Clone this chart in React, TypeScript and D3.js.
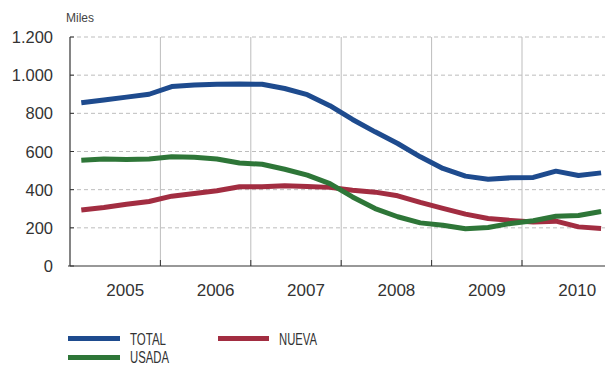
import * as React from 'react';
import * as d3 from 'd3';

// Quarterly data, 2005 Q1 .. 2010 Q4 (miles)
const years = ['2005', '2006', '2007', '2008', '2009', '2010'];
const yTicks = [0, 200, 400, 600, 800, 1000, 1200];
const total = [855, 870, 885, 900, 940, 948, 953, 954, 952, 930, 898, 840,
  768, 703, 642, 572, 511, 471, 455, 462, 464, 497, 474, 488];
const usada = [554, 561, 558, 561, 572, 570, 561, 540, 533, 507, 476, 432,
  362, 301, 258, 226, 214, 195, 202, 223, 237, 261, 265, 286];
const nueva = [293, 307, 324, 338, 366, 380, 394, 415, 415, 420, 417, 412,
  397, 387, 368, 333, 302, 272, 249, 239, 230, 235, 205, 197];

const series = [
  {name: 'TOTAL', values: total, color: '#1e4b8e'},
  {name: 'NUEVA', values: nueva, color: '#a22d41'},
  {name: 'USADA', values: usada, color: '#2e7638'},
];

const W = 605;
const H = 367;
const fmt = (n: number) => n >= 1000 ? d3.format(',')(n).replace(',', '.') : String(n);

export default function App() {
  const x = d3.scaleLinear().domain([0, 24]).range([70, 70 + 24 * 22.6]);
  const y = d3.scaleLinear().domain([0, 1200]).range([266, 37]);
  const line = d3.line<number>()
    .x((_, i) => x(i + 0.5))
    .y((d) => y(d));
  const font = '"Liberation Sans", Arial, Helvetica, sans-serif';

  return <svg width={W} height={H} style={{position: 'absolute', left: 0, top: 0}}
    fontFamily={font}>
    <rect width={W} height={H} fill="#fff" />
    <text x={66} y={22} fontSize={12} fill="#444">Miles</text>

    {/* horizontal dashed grid */}
    {yTicks.filter((t) => t > 0).map((t) =>
      <line key={t} x1={70} x2={W} y1={y(t)} y2={y(t)}
        stroke="#bdbdbd" strokeWidth={1} strokeDasharray="4,3" />)}
    {/* vertical year separators */}
    {years.slice(1).map((_, i) =>
      <line key={i} x1={x((i + 1) * 4)} x2={x((i + 1) * 4)} y1={y(1200)} y2={y(0)}
        stroke="#bdbdbd" strokeWidth={1} />)}

    {/* y axis */}
    <line x1={70} x2={70} y1={y(1200)} y2={y(0)} stroke="#333" strokeWidth={1.2} />
    {yTicks.map((t) =>
      <g key={t}>
        <line x1={70} x2={74} y1={y(t)} y2={y(t)} stroke="#333" strokeWidth={1} />
        <text x={53} y={y(t) + 6} fontSize={16.5} fill="#333" textAnchor="end">{fmt(t)}</text>
      </g>)}

    {/* x axis */}
    <line x1={68} x2={W} y1={y(0)} y2={y(0)} stroke="#333" strokeWidth={1.2} />
    {years.slice(1).map((_, i) =>
      <line key={i} x1={x((i + 1) * 4)} x2={x((i + 1) * 4)} y1={y(0)} y2={y(0) - 6}
        stroke="#333" strokeWidth={1} />)}
    {years.map((yr, i) =>
      <text key={yr} x={x(i * 4 + 2) + 10} y={296} fontSize={17} fill="#333"
        textAnchor="middle">{yr}</text>)}

    {/* series */}
    {series.map((s) =>
      <path key={s.name} d={line(s.values) || ''} fill="none" stroke={s.color}
        strokeWidth={5} strokeLinejoin="round" />)}

    {/* legend */}
    <line x1={68} x2={120} y1={338.5} y2={338.5} stroke={series[0].color} strokeWidth={5} />
    <text x={130} y={345} fontSize={16} fill="#333" textLength={36}
      lengthAdjust="spacingAndGlyphs">TOTAL</text>
    <line x1={218} x2={269} y1={338.5} y2={338.5} stroke={series[1].color} strokeWidth={5} />
    <text x={279} y={345} fontSize={16} fill="#333" textLength={38}
      lengthAdjust="spacingAndGlyphs">NUEVA</text>
    <line x1={68} x2={120} y1={357.5} y2={357.5} stroke={series[2].color} strokeWidth={5} />
    <text x={130} y={362.5} fontSize={16} fill="#333" textLength={39}
      lengthAdjust="spacingAndGlyphs">USADA</text>
  </svg>;
}
